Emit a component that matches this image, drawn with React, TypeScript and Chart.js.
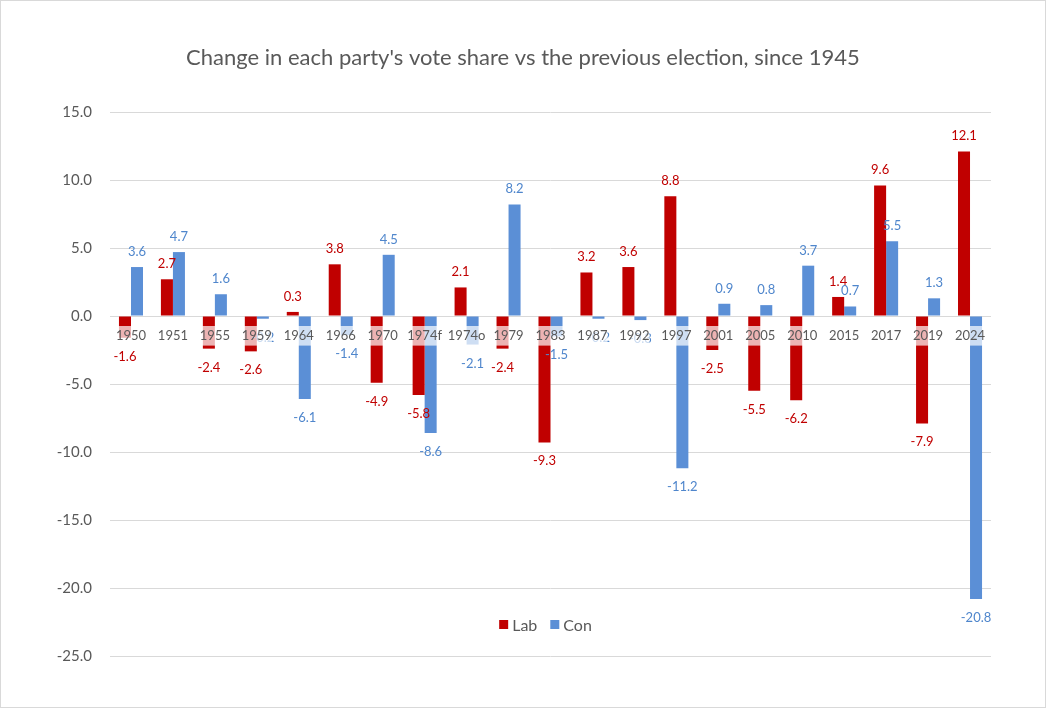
import React, { useEffect, useRef } from "react";
import { Chart, registerables } from "chart.js";

Chart.register(...registerables);

const categories = ["1950", "1951", "1955", "1959", "1964", "1966", "1970", "1974f", "1974o", "1979", "1983", "1987", "1992", "1997", "2001", "2005", "2010", "2015", "2017", "2019", "2024"];
const labValues = [-1.6, 2.7, -2.4, -2.6, 0.3, 3.8, -4.9, -5.8, 2.1, -2.4, -9.3, 3.2, 3.6, 8.8, -2.5, -5.5, -6.2, 1.4, 9.6, -7.9, 12.1];
const conValues = [3.6, 4.7, 1.6, -0.2, -6.1, -1.4, 4.5, -8.6, -2.1, 8.2, -1.5, -0.2, -0.3, -11.2, 0.9, 0.8, 3.7, 0.7, 5.5, 1.3, -20.8];
const seriesNames = ["Lab", "Con"];
const seriesColors = ["#C00000", "#5B8FD6"];
const labelColors = ["#C00000", "#4F86CC"];
const titleText = "Change in each party's vote share vs the previous election, since 1945";

const FONT = "Lato, 'Liberation Sans', sans-serif";
const TEXT_GRAY = "#595959";

const decorPlugin = {
  id: "decor",
  afterDatasetsDraw(chart: any) {
    const ctx = chart.ctx;
    ctx.save();
    ctx.font = `13px ${FONT}`;
    ctx.textAlign = "center";
    ctx.textBaseline = "alphabetic";
    chart.data.datasets.forEach((ds: any, di: number) => {
      const meta = chart.getDatasetMeta(di);
      ctx.fillStyle = labelColors[di];
      meta.data.forEach((bar: any, i: number) => {
        const v = ds.data[i];
        const txt = v.toFixed(1);
        if (v >= 0) {
          ctx.fillText(txt, bar.x, bar.y - 11);
        } else {
          ctx.fillText(txt, bar.x, bar.y + 23);
        }
      });
    });
    ctx.restore();
  },
  afterDraw(chart: any) {
    const ctx = chart.ctx;
    const area = chart.chartArea;
    ctx.save();
    // border
    ctx.strokeStyle = "#d9d9d9";
    ctx.lineWidth = 1;
    ctx.strokeRect(0.5, 0.5, chart.width - 1, chart.height - 1);
    // title
    ctx.fillStyle = TEXT_GRAY;
    ctx.font = `22px ${FONT}`;
    ctx.textAlign = "center";
    ctx.textBaseline = "middle";
    ctx.fillText(titleText, chart.width / 2, 58);
    // legend
    ctx.font = `16px ${FONT}`;
    ctx.textAlign = "left";
    const box = 9;
    const gapBoxText = 4;
    const gapItems = 13;
    const widths = seriesNames.map((n) => ctx.measureText(n).width);
    let total = 0;
    widths.forEach((w, i) => {
      total += box + gapBoxText + w + (i < widths.length - 1 ? gapItems : 0);
    });
    let x = (area.left + area.right) / 2 - 5 - total / 2;
    const cy = area.bottom - 31.5;
    seriesNames.forEach((n, i) => {
      ctx.fillStyle = seriesColors[i];
      ctx.fillRect(x, cy - box / 2, box, box);
      x += box + gapBoxText;
      ctx.fillStyle = TEXT_GRAY;
      ctx.fillText(n, x, cy + 1);
      x += widths[i] + gapItems;
    });
    ctx.restore();
  },
};

export default function App() {
  const canvasRef = useRef<HTMLCanvasElement | null>(null);

  useEffect(() => {
    document.body.style.margin = "0";
    const canvas = canvasRef.current;
    if (!canvas) return;
    const chart = new Chart(canvas, {
      type: "bar",
      data: {
        labels: categories,
        datasets: [
          { label: seriesNames[0], data: labValues, backgroundColor: seriesColors[0], borderWidth: 0 },
          { label: seriesNames[1], data: conValues, backgroundColor: seriesColors[1], borderWidth: 0 },
        ],
      },
      options: {
        animation: false,
        responsive: true,
        maintainAspectRatio: false,
        devicePixelRatio: 1,
        layout: { padding: { top: 112, bottom: 52, right: 55, left: 0 } },
        datasets: { bar: { categoryPercentage: 0.573, barPercentage: 1 } },
        plugins: {
          legend: { display: false },
          title: { display: false },
          tooltip: { enabled: false },
        },
        scales: {
          x: {
            position: { y: 0 } as any,
            z: 1,
            grid: { display: false, drawTicks: false },
            border: { display: false },
            ticks: {
              z: 1,
              color: TEXT_GRAY,
              font: { family: FONT, size: 13 },
              padding: 12,
              maxRotation: 0,
              autoSkip: false,
              showLabelBackdrop: true,
              backdropColor: "rgba(255,255,255,0.7)",
              backdropPadding: { top: 2, bottom: 2, left: 0, right: 0 },
            } as any,
          },
          y: {
            min: -25,
            max: 15,
            afterFit: (scale: any) => {
              scale.width = 110;
            },
            grid: { color: "#d9d9d9", drawTicks: false },
            border: { display: false },
            ticks: {
              stepSize: 5,
              color: TEXT_GRAY,
              font: { family: FONT, size: 15 },
              padding: 18,
              callback: (v: any) => Number(v).toFixed(1),
            },
          },
        },
      },
      plugins: [decorPlugin],
    });
    return () => chart.destroy();
  }, []);

  return (
    <div style={{ width: 1046, height: 708, position: "relative", background: "#fff" }}>
      <canvas ref={canvasRef} />
    </div>
  );
}
